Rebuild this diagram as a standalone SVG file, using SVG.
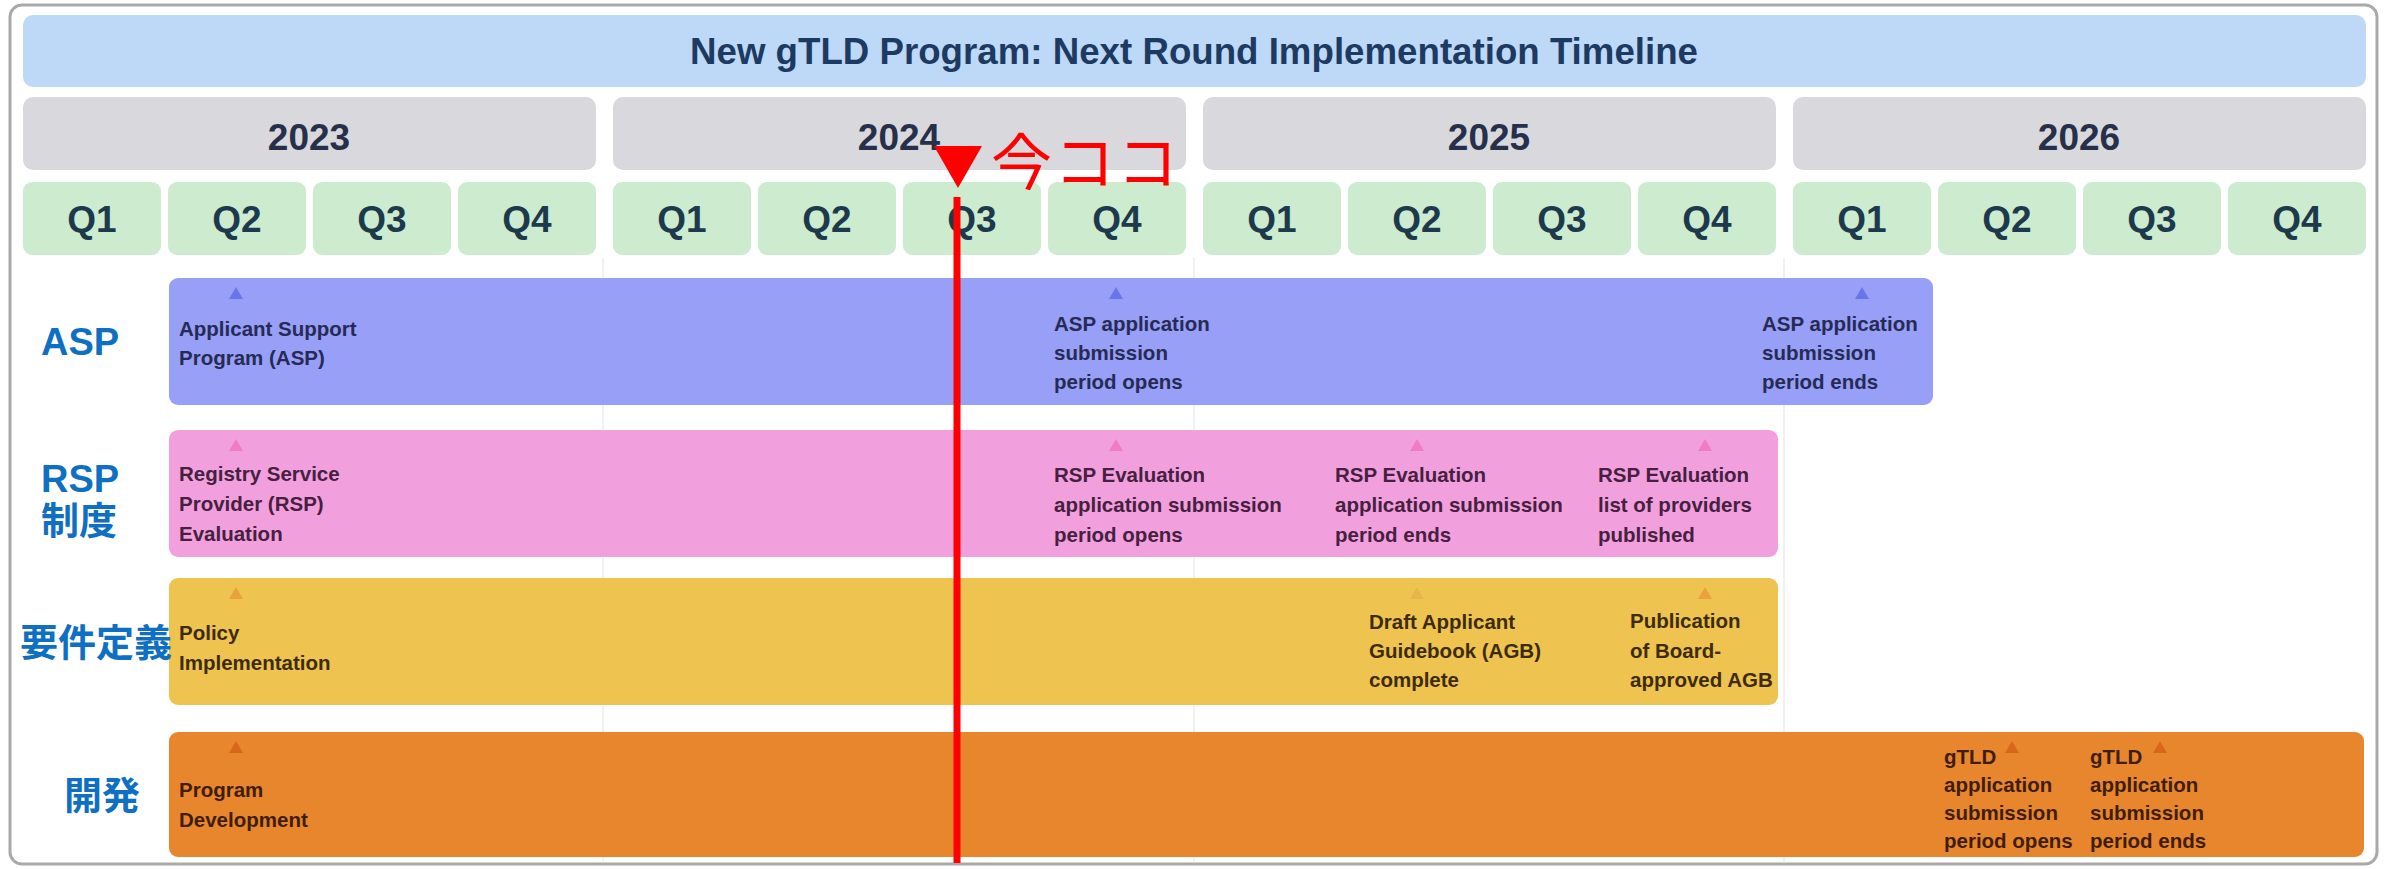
<svg xmlns="http://www.w3.org/2000/svg" width="2387" height="869" viewBox="0 0 2387 869">
<style>
.t{font-family:"Liberation Sans",Arial,sans-serif;font-weight:bold}
.hdr{font-size:37px;fill:#27304a;text-anchor:middle}
.q{font-size:37px;fill:#1d3a4c;text-anchor:middle}
.yr{fill:#d9d9dd}
.qb{fill:#cdeccf}
.lane{font-family:"Liberation Sans","Noto Sans CJK JP",sans-serif;font-weight:bold;font-size:38px;fill:#0f6fc2}
.ms{font-family:"Liberation Sans",Arial,sans-serif;font-weight:bold;font-size:20.5px}
.asp{fill:#262a55}.rsp{fill:#45203f}.pol{fill:#3d2c0c}.dev{fill:#3f1d06}
.grid{stroke:#f1f1f1;stroke-width:2}
</style>
<defs>
<path id="tri" d="M-7,12 L0,0 L7,12 Z"/>
</defs>
<rect x="10" y="5" width="2367" height="859" rx="12" fill="#ffffff" stroke="#a9a9a9" stroke-width="3"/>
<g id="grid">
<line class="grid" x1="603" y1="258" x2="603" y2="862"/>
<line class="grid" x1="1194" y1="258" x2="1194" y2="862"/>
<line class="grid" x1="1784" y1="258" x2="1784" y2="862"/>
</g>
<g id="title">
<rect x="23" y="15" width="2343" height="72" rx="10" fill="#bdd9f7"/>
<text class="t" x="1194" y="64" font-size="36" fill="#1d3a63" text-anchor="middle" textLength="1008" lengthAdjust="spacingAndGlyphs">New gTLD Program: Next Round Implementation Timeline</text>
</g>
<g id="years">
<rect class="yr" x="23" y="97" width="573" height="73" rx="10"/>
<rect class="yr" x="613" y="97" width="573" height="73" rx="10"/>
<rect class="yr" x="1203" y="97" width="573" height="73" rx="10"/>
<rect class="yr" x="1793" y="97" width="573" height="73" rx="10"/>
<text class="t hdr" x="309" y="150">2023</text>
<text class="t hdr" x="899" y="150">2024</text>
<text class="t hdr" x="1489" y="150">2025</text>
<text class="t hdr" x="2079" y="150">2026</text>
</g>
<g id="quarters">
<rect class="qb" x="23" y="182" width="138" height="73" rx="9"/>
<rect class="qb" x="168" y="182" width="138" height="73" rx="9"/>
<rect class="qb" x="313" y="182" width="138" height="73" rx="9"/>
<rect class="qb" x="458" y="182" width="138" height="73" rx="9"/>
<rect class="qb" x="613" y="182" width="138" height="73" rx="9"/>
<rect class="qb" x="758" y="182" width="138" height="73" rx="9"/>
<rect class="qb" x="903" y="182" width="138" height="73" rx="9"/>
<rect class="qb" x="1048" y="182" width="138" height="73" rx="9"/>
<rect class="qb" x="1203" y="182" width="138" height="73" rx="9"/>
<rect class="qb" x="1348" y="182" width="138" height="73" rx="9"/>
<rect class="qb" x="1493" y="182" width="138" height="73" rx="9"/>
<rect class="qb" x="1638" y="182" width="138" height="73" rx="9"/>
<rect class="qb" x="1793" y="182" width="138" height="73" rx="9"/>
<rect class="qb" x="1938" y="182" width="138" height="73" rx="9"/>
<rect class="qb" x="2083" y="182" width="138" height="73" rx="9"/>
<rect class="qb" x="2228" y="182" width="138" height="73" rx="9"/>
<text class="t q" x="92" y="232">Q1</text>
<text class="t q" x="237" y="232">Q2</text>
<text class="t q" x="382" y="232">Q3</text>
<text class="t q" x="527" y="232">Q4</text>
<text class="t q" x="682" y="232">Q1</text>
<text class="t q" x="827" y="232">Q2</text>
<text class="t q" x="972" y="232">Q3</text>
<text class="t q" x="1117" y="232">Q4</text>
<text class="t q" x="1272" y="232">Q1</text>
<text class="t q" x="1417" y="232">Q2</text>
<text class="t q" x="1562" y="232">Q3</text>
<text class="t q" x="1707" y="232">Q4</text>
<text class="t q" x="1862" y="232">Q1</text>
<text class="t q" x="2007" y="232">Q2</text>
<text class="t q" x="2152" y="232">Q3</text>
<text class="t q" x="2297" y="232">Q4</text>
</g>
<g id="lane-asp">
<rect x="169" y="278" width="1764" height="127" rx="9" fill="#979ff6"/>
<text class="lane" x="41" y="355">ASP</text>
</g>
<g id="lane-rsp">
<rect x="169" y="430" width="1609" height="127" rx="9" fill="#f2a0dd"/>
<text class="lane" x="41" y="492">RSP</text>
<text class="lane" x="41" y="534">制度</text>
</g>
<g id="lane-policy">
<rect x="169" y="578" width="1609" height="127" rx="9" fill="#efc350"/>
<text class="lane" x="20" y="656">要件定義</text>
</g>
<g id="lane-dev">
<rect x="169" y="732" width="2195" height="125" rx="9" fill="#e8862e"/>
<text class="lane" x="64" y="809">開発</text>
</g>
<g id="ms-asp-1">
<use href="#tri" x="236" y="287" fill="#6b75ea"/>
<text class="ms asp" x="179" y="336">Applicant Support</text>
<text class="ms asp" x="179" y="365">Program (ASP)</text>
</g>
<g id="ms-asp-2">
<use href="#tri" x="1116" y="287" fill="#6b75ea"/>
<text class="ms asp" x="1054" y="331">ASP application</text>
<text class="ms asp" x="1054" y="360">submission</text>
<text class="ms asp" x="1054" y="389">period opens</text>
</g>
<g id="ms-asp-3">
<use href="#tri" x="1862" y="287" fill="#6b75ea"/>
<text class="ms asp" x="1762" y="331">ASP application</text>
<text class="ms asp" x="1762" y="360">submission</text>
<text class="ms asp" x="1762" y="389">period ends</text>
</g>
<g id="ms-rsp-1">
<use href="#tri" x="236" y="439" fill="#f07cc8"/>
<text class="ms rsp" x="179" y="481">Registry Service</text>
<text class="ms rsp" x="179" y="511">Provider (RSP)</text>
<text class="ms rsp" x="179" y="541">Evaluation</text>
</g>
<g id="ms-rsp-2">
<use href="#tri" x="1116" y="439" fill="#f07cc8"/>
<text class="ms rsp" x="1054" y="482">RSP Evaluation</text>
<text class="ms rsp" x="1054" y="512">application submission</text>
<text class="ms rsp" x="1054" y="542">period opens</text>
</g>
<g id="ms-rsp-3">
<use href="#tri" x="1417" y="439" fill="#f07cc8"/>
<text class="ms rsp" x="1335" y="482">RSP Evaluation</text>
<text class="ms rsp" x="1335" y="512">application submission</text>
<text class="ms rsp" x="1335" y="542">period ends</text>
</g>
<g id="ms-rsp-4">
<use href="#tri" x="1705" y="439" fill="#f07cc8"/>
<text class="ms rsp" x="1598" y="482">RSP Evaluation</text>
<text class="ms rsp" x="1598" y="512">list of providers</text>
<text class="ms rsp" x="1598" y="542">published</text>
</g>
<g id="ms-pol-1">
<use href="#tri" x="236" y="587" fill="#e9a23c"/>
<text class="ms pol" x="179" y="640">Policy</text>
<text class="ms pol" x="179" y="670">Implementation</text>
</g>
<g id="ms-pol-2">
<use href="#tri" x="1417" y="587" fill="#e6b64a"/>
<text class="ms pol" x="1369" y="629">Draft Applicant</text>
<text class="ms pol" x="1369" y="658">Guidebook (AGB)</text>
<text class="ms pol" x="1369" y="687">complete</text>
</g>
<g id="ms-pol-3">
<use href="#tri" x="1705" y="587" fill="#e9a23c"/>
<text class="ms pol" x="1630" y="628">Publication</text>
<text class="ms pol" x="1630" y="658">of Board-</text>
<text class="ms pol" x="1630" y="687">approved AGB</text>
</g>
<g id="ms-dev-1">
<use href="#tri" x="236" y="741" fill="#d9661a"/>
<text class="ms dev" x="179" y="797">Program</text>
<text class="ms dev" x="179" y="827">Development</text>
</g>
<g id="ms-dev-2">
<use href="#tri" x="2012" y="741" fill="#d9661a"/>
<text class="ms dev" x="1944" y="764">gTLD</text>
<text class="ms dev" x="1944" y="792">application</text>
<text class="ms dev" x="1944" y="820">submission</text>
<text class="ms dev" x="1944" y="848">period opens</text>
</g>
<g id="ms-dev-3">
<use href="#tri" x="2160" y="741" fill="#d9661a"/>
<text class="ms dev" x="2090" y="764">gTLD</text>
<text class="ms dev" x="2090" y="792">application</text>
<text class="ms dev" x="2090" y="820">submission</text>
<text class="ms dev" x="2090" y="848">period ends</text>
</g>
<g id="now-marker">
<line x1="957" y1="197" x2="957" y2="863" stroke="#ff0000" stroke-width="7"/>
<path d="M934,146 L982,146 L958,188 Z" fill="#ff0000"/>
<text x="991" y="185" font-family="'Noto Sans CJK JP',sans-serif" font-size="61" letter-spacing="2" fill="#ff0000">今ココ</text>
</g>
</svg>
